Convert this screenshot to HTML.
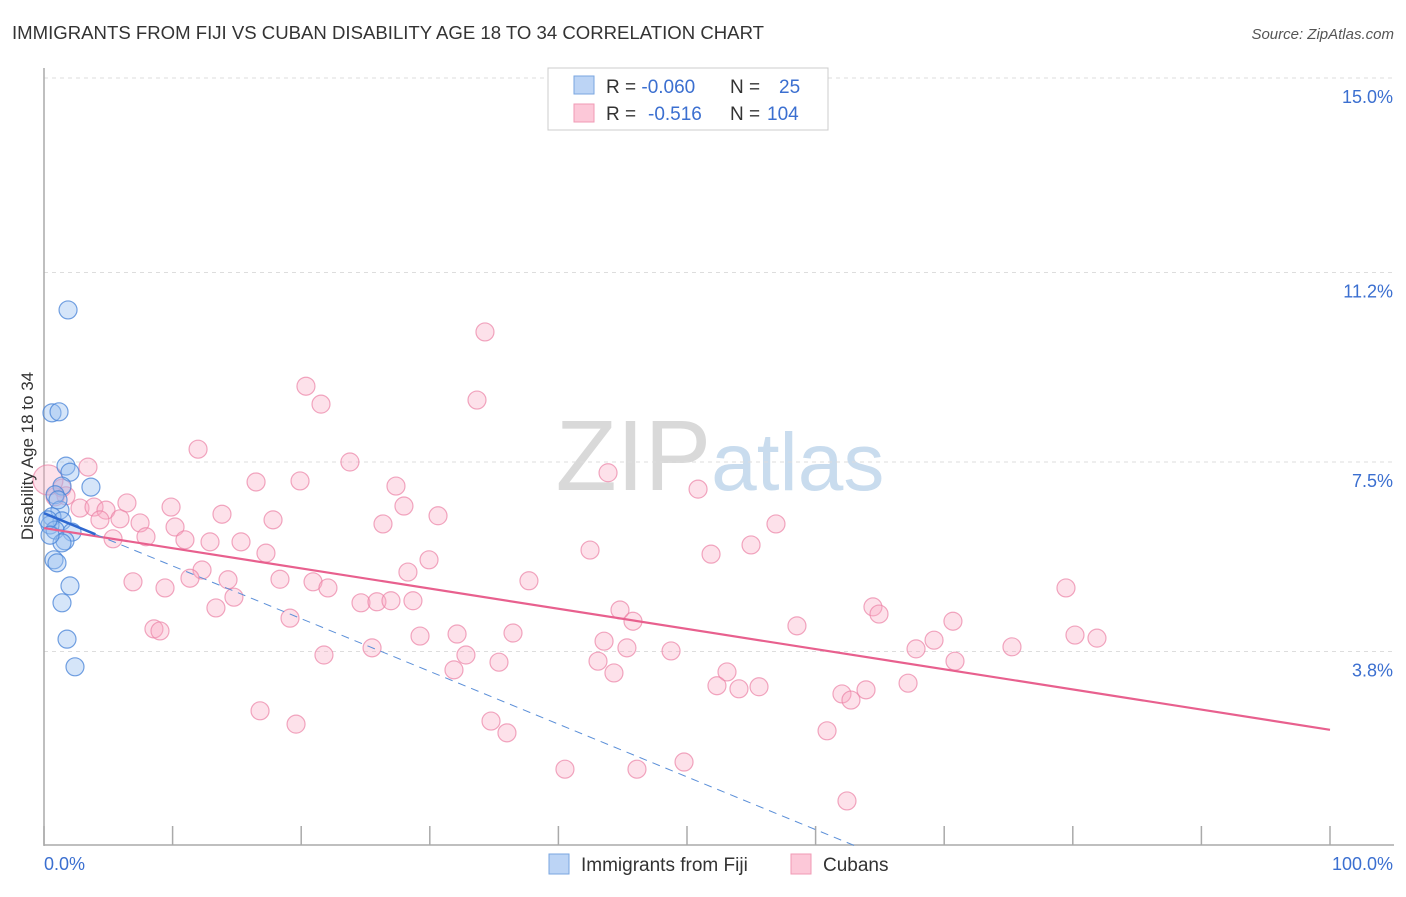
<!DOCTYPE html>
<html><head><meta charset="utf-8"><style>
body{margin:0;background:#fff;font-family:"Liberation Sans",sans-serif;}
svg text{font-family:"Liberation Sans",sans-serif;}
</style></head><body>
<svg id="chart" width="1406" height="892" viewBox="0 0 1406 892" xmlns="http://www.w3.org/2000/svg">
<text x="12" y="39" font-size="18" fill="#333" textLength="752" lengthAdjust="spacingAndGlyphs">IMMIGRANTS FROM FIJI VS CUBAN DISABILITY AGE 18 TO 34 CORRELATION CHART</text>
<text x="1394" y="39" font-size="15" fill="#555" text-anchor="end" font-style="italic">Source: ZipAtlas.com</text>
<text x="720" y="490" font-size="100" fill="#ddd" text-anchor="middle" font-family="Liberation Serif"><tspan fill="#d9d9d9">ZIP</tspan><tspan fill="#c9dcee" font-family="Liberation Sans" font-size="82">atlas</tspan></text>
<g id="grid"></g>
<g id="axes"></g>
<g id="marks"></g>
<text transform="translate(33,456) rotate(-90)" font-size="17" fill="#333" text-anchor="middle">Disability Age 18 to 34</text>
<g>
<rect x="548" y="68" width="280" height="62" fill="#fff" stroke="#ccc"/>
<rect x="574" y="76" width="20" height="18" fill="#bcd4f5" stroke="#7aa6e0"/>
<rect x="574" y="104" width="20" height="18" fill="#fcc8d8" stroke="#f09ab5"/>
<text x="606" y="93" font-size="19" fill="#333">R = <tspan fill="#3b6fd0">-0.060</tspan><tspan x="730">N =</tspan><tspan x="779" fill="#3b6fd0">25</tspan></text>
<text x="606" y="120" font-size="19" fill="#333">R = <tspan x="648" fill="#3b6fd0">-0.516</tspan><tspan x="730">N =</tspan><tspan x="767" fill="#3b6fd0">104</tspan></text>
</g>
<g>
<rect x="549" y="854" width="20" height="20" fill="#bcd4f5" stroke="#7aa6e0"/>
<text x="581" y="871" font-size="19" fill="#333">Immigrants from Fiji</text>
<rect x="791" y="854" width="20" height="20" fill="#fcc8d8" stroke="#f09ab5"/>
<text x="823" y="871" font-size="19" fill="#333">Cubans</text>
</g>
</svg>
<script>
const yTicks=[15.0,11.2,7.5,3.8];
const yTickLabels=["15.0%","11.2%","7.5%","3.8%"];
const xTickCount=10;
const xLabels=["0.0%","100.0%"];
const fijiX=[1.87,0.62,1.17,1.71,2.02,3.65,1.40,0.86,1.24,0.62,1.40,0.47,0.86,2.18,1.63,1.40,0.78,1.01,2.02,1.40,1.79,2.41,0.31,1.09,0.47];
const fijiY=[10.47,8.46,8.48,7.42,7.30,7.01,7.03,6.86,6.56,6.43,6.35,6.27,6.17,6.13,5.96,5.92,5.59,5.53,5.08,4.75,4.04,3.50,6.37,6.76,6.07];
const cubX=[34.29,20.37,21.54,33.67,11.98,23.79,3.42,43.86,16.49,19.91,27.37,50.86,1.40,1.71,0.86,6.45,27.99,9.88,2.80,3.89,4.82,13.84,30.64,17.81,5.91,7.47,4.35,26.36,56.92,10.19,5.37,10.96,7.93,12.91,15.32,42.46,54.98,17.26,51.87,29.94,28.30,12.29,18.35,6.92,11.35,14.31,20.92,22.08,37.71,79.47,9.41,14.77,13.37,24.65,25.89,26.98,28.69,44.79,64.46,64.93,45.80,19.13,70.68,8.55,9.02,58.55,29.24,32.12,36.47,69.21,80.17,81.88,43.55,21.77,25.51,32.81,45.33,48.76,67.81,75.27,35.38,43.08,70.84,31.88,44.32,53.11,52.33,54.04,55.60,67.19,62.05,63.92,62.75,16.80,19.60,34.76,36.00,60.89,49.77,40.51,46.11,62.44,0.31];
const cubY=[10.04,8.98,8.63,8.71,7.75,7.50,7.40,7.29,7.11,7.13,7.03,6.97,6.99,6.84,6.82,6.70,6.64,6.62,6.60,6.62,6.56,6.48,6.45,6.37,6.39,6.31,6.37,6.29,6.29,6.23,6.00,5.98,6.04,5.94,5.94,5.78,5.88,5.72,5.70,5.59,5.35,5.39,5.21,5.16,5.23,5.20,5.16,5.04,5.18,5.04,5.04,4.86,4.65,4.75,4.77,4.79,4.79,4.61,4.67,4.53,4.39,4.45,4.39,4.24,4.20,4.30,4.10,4.14,4.16,4.02,4.12,4.06,4.00,3.73,3.87,3.73,3.87,3.81,3.85,3.89,3.59,3.61,3.61,3.44,3.38,3.40,3.13,3.07,3.11,3.18,2.97,3.05,2.85,2.64,2.38,2.44,2.21,2.25,1.64,1.50,1.50,0.88,7.15];
const fijiTrend=[6.50,-0.103];
const cubTrend=[6.21,-0.0394];
const NS="http://www.w3.org/2000/svg";
const X=v=>44+v*12.86;
const Y=v=>78+(15-v)*51.2;
function mk(tag,attrs,parent){const e=document.createElementNS(NS,tag);for(const k in attrs)e.setAttribute(k,attrs[k]);parent.appendChild(e);return e;}
const grid=document.getElementById('grid'),axes=document.getElementById('axes'),marks=document.getElementById('marks');
yTicks.forEach((t,i)=>{
 const l=mk('line',{x1:44,x2:1394,y1:Y(t),y2:Y(t),stroke:'#ddd','stroke-dasharray':'4,4'},grid);
 
 
 const tx=mk('text',{x:1393,y:Y(t)+25,'font-size':18,fill:'#3b6fd0','text-anchor':'end'},axes);
 tx.textContent=yTickLabels[i];
 
 
});
const ya=mk('line',{x1:44,x2:44,y1:68,y2:846,stroke:'#aaa','stroke-width':1.5},axes);


const xa=mk('line',{x1:44,x2:1394,y1:845,y2:845,stroke:'#aaa','stroke-width':1.5},axes);


for(let i=0;i<=xTickCount;i++){
 const t=mk('line',{x1:X(i*10),x2:X(i*10),y1:826,y2:845,stroke:'#aaa','stroke-width':1.5},axes);
 
 
}
const xl0=mk('text',{x:44,y:870,'font-size':18,fill:'#3b6fd0'},axes);xl0.textContent=xLabels[0];


const xl1=mk('text',{x:1393,y:870,'font-size':18,fill:'#3b6fd0','text-anchor':'end'},axes);xl1.textContent=xLabels[1];


cubX.forEach((x,i)=>{
 const c=mk('circle',{cx:X(x),cy:Y(cubY[i]),r:i===cubX.length-1?15:9,fill:'rgba(248,170,195,0.35)',stroke:'rgba(235,130,165,0.7)','stroke-width':1.2},marks);
 
 
});
fijiX.forEach((x,i)=>{
 const c=mk('circle',{cx:X(x),cy:Y(fijiY[i]),r:9,fill:'rgba(150,190,240,0.4)',stroke:'rgba(70,130,215,0.75)','stroke-width':1.2},marks);
 
 
});
const ct=mk('line',{x1:X(0),y1:Y(cubTrend[0]),x2:X(100),y2:Y(cubTrend[0]+cubTrend[1]*100),stroke:'#e8608e','stroke-width':2.2},marks);


const xEnd=-fijiTrend[0]/fijiTrend[1];
const fd=mk('line',{x1:X(4),y1:Y(fijiTrend[0]+fijiTrend[1]*4),x2:X(xEnd),y2:Y(0),stroke:'#5b8fd8','stroke-width':1,'stroke-dasharray':'8,6'},marks);


const fs=mk('line',{x1:X(0),y1:Y(fijiTrend[0]),x2:X(4),y2:Y(fijiTrend[0]+fijiTrend[1]*4),stroke:'#2e68d0','stroke-width':2.5},marks);


</script>
</body></html>
